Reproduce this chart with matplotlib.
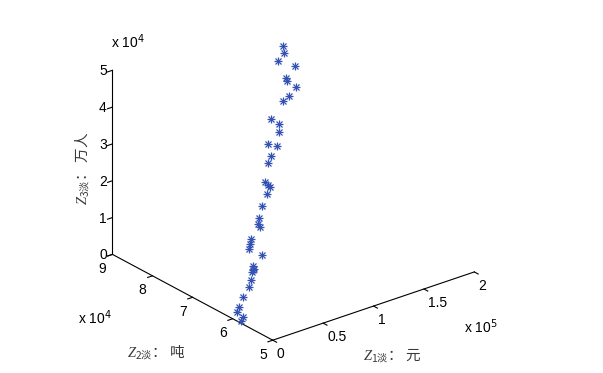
import numpy as np
import matplotlib
matplotlib.use('Agg')
import matplotlib.pyplot as plt

# Data (Z1: 元, Z2: 吨, Z3: 万人)
z1_yuan = [139500, 136400, 130800, 132800, 124900, 124000, 123400, 117800, 113500, 102700,
           101900, 98400, 90300, 91500, 85300, 81200, 71900, 71100, 70400, 66600,
           59400, 53200, 50400, 49300, 41600, 39000, 36500, 37100, 29400, 27700,
           28700, 26400, 22500, 18900, 12700, 7100, 4300, 3300, 1000]
z2_ton = [82400, 81400, 81700, 77900, 78200, 77500, 75200, 75500, 76100, 76200,
          74100, 73300, 73900, 71900, 72000, 71700, 69900, 69100, 68500, 68200,
          67700, 66700, 66300, 65700, 66000, 65400, 65200, 61900, 62200, 61900,
          61800, 61800, 61100, 60700, 60700, 60200, 60000, 58300, 58100]
z3_wanren = [48100, 47000, 45100, 45800, 43100, 42800, 42600, 40600, 39100, 35400,
             35100, 33900, 31100, 31500, 29400, 28000, 24800, 24500, 24300, 23000,
             20500, 18400, 17400, 17000, 14300, 13500, 12600, 12800, 10200, 9500,
             9900, 9100, 7800, 6500, 4400, 2400, 1500, 1100, 300]

x_ticks = [0, 50000, 100000, 150000, 200000]
x_ticklabels = ['0', '0.5', '1', '1.5', '2']
y_ticks = [50000, 60000, 70000, 80000, 90000]
y_ticklabels = ['5', '6', '7', '8', '9']
z_ticks = [0, 10000, 20000, 30000, 40000, 50000]
z_ticklabels = ['0', '1', '2', '3', '4', '5']

plt.rcParams['font.family'] = ['Liberation Sans', 'Noto Sans CJK SC', 'DejaVu Sans']
plt.rcParams['mathtext.fontset'] = 'custom'
plt.rcParams['mathtext.it'] = 'Liberation Serif:italic'
plt.rcParams['mathtext.rm'] = 'Noto Sans CJK SC'

fig = plt.figure(figsize=(6.03, 3.73), dpi=100)
ax = fig.add_axes([85.4 / 603, -0.0163, 405 / 603, 405 / 373], projection='3d')
ax.set_proj_type('ortho')
ax.view_init(elev=25.2, azim=-128.5)
ax.set_box_aspect((1, 1, 0.79))

col = '#3352b3'
ax.plot(z1_yuan, z2_ton, z3_wanren, linestyle='none', marker='+', ms=6.2, mew=0.9, color=col)
ax.plot(z1_yuan, z2_ton, z3_wanren, linestyle='none', marker='x', ms=4.4, mew=0.9, color=col)

ax.set_xlim(0, 200000)
ax.set_ylim(50000, 90000)
ax.set_zlim(0, 50000)
ax.set_xticks(x_ticks)
ax.set_xticklabels(x_ticklabels, ha='left', va='top')
ax.set_yticks(y_ticks)
ax.set_yticklabels(y_ticklabels, ha='right', va='top')
ax.set_zticks(z_ticks)
ax.set_zticklabels(z_ticklabels, va='center_baseline')

ax.grid(False)
for axis in (ax.xaxis, ax.yaxis, ax.zaxis):
    axis.set_pane_color((1, 1, 1, 0))
    axis.pane.set_edgecolor((1, 1, 1, 0))
    axis.line.set_color('black')
    axis.line.set_linewidth(0.8)
    axis._axinfo['tick']['inward_factor'] = 0.3
    axis._axinfo['tick']['outward_factor'] = 0.0
ax.tick_params(axis='both', labelsize=10, colors='black', width=0.6)
ax.xaxis.set_tick_params(pad=-4)
ax.yaxis.set_tick_params(pad=-3.5)
ax.zaxis.set_tick_params(pad=-4)

lab_kw = dict(fontsize=10.5, color='#3a3a3a')
fig.text(392 / 603, 1 - 355 / 373, r'$Z_{\mathrm{1淡}}\mathrm{：\ 元}$', ha='center', va='center', **lab_kw)
fig.text(156 / 603, 1 - 352 / 373, r'$Z_{\mathrm{2淡}}\mathrm{：\ 吨}$', ha='center', va='center', **lab_kw)
fig.text(82 / 603, 1 - 168 / 373, r'$Z_{\mathrm{3淡}}\mathrm{：\ 万人}$', ha='center', va='center',
         rotation=90, **lab_kw)

off_kw = dict(fontsize=10, color='black', math_fontfamily='dejavusans')
fig.text(128 / 603, 1 - 42 / 373, r'x 10$^{4}$', ha='center', va='center', **off_kw)
fig.text(95 / 603, 1 - 318 / 373, r'x 10$^{4}$', ha='center', va='center', **off_kw)
fig.text(481 / 603, 1 - 327 / 373, r'x 10$^{5}$', ha='center', va='center', **off_kw)

fig.savefig('out.png', dpi=100)
